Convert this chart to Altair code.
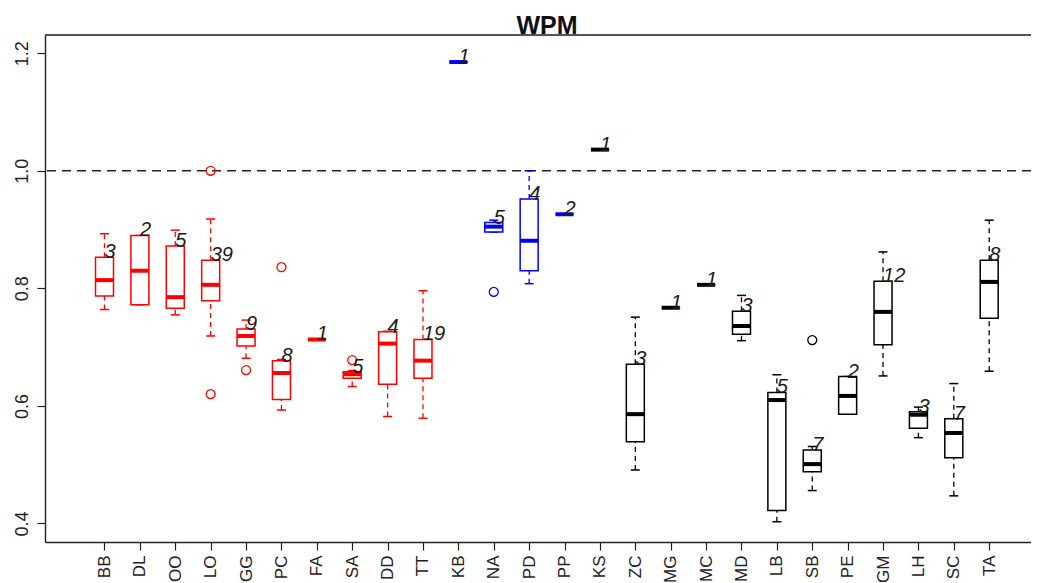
import altair as alt
import pandas as pd

# ---- data ----
names = ["BB", "DL", "OO", "LO", "GG", "PC", "FA", "SA", "DD", "TT",
         "KB", "NA", "PD", "PP",
         "KS", "ZC", "MG", "MC", "MD", "LB", "SB", "PE", "GM", "LH", "SC", "TA"]
groups = ["red"] * 10 + ["blue"] * 4 + ["black"] * 12
lower = [0.764, 0.772, 0.755, 0.719, 0.681, 0.593, 0.713, 0.633, 0.582, 0.579,
         1.185, 0.896, 0.808, 0.926,
         1.036, 0.491, 0.767, 0.806, 0.711, 0.403, 0.456, 0.586, 0.651, 0.546, 0.447, 0.659]
q1 = [0.787, 0.772, 0.766, 0.779, 0.702, 0.611, 0.713, 0.647, 0.637, 0.647,
      1.185, 0.896, 0.830, 0.926,
      1.036, 0.539, 0.767, 0.806, 0.722, 0.422, 0.488, 0.586, 0.704, 0.562, 0.512, 0.749]
median = [0.814, 0.830, 0.785, 0.806, 0.719, 0.656, 0.713, 0.654, 0.706, 0.677,
          1.185, 0.905, 0.881, 0.926,
          1.036, 0.586, 0.767, 0.806, 0.736, 0.610, 0.501, 0.617, 0.760, 0.585, 0.554, 0.811]
q3 = [0.853, 0.890, 0.872, 0.848, 0.731, 0.677, 0.713, 0.658, 0.726, 0.713,
      1.185, 0.912, 0.952, 0.926,
      1.036, 0.671, 0.767, 0.806, 0.761, 0.623, 0.525, 0.650, 0.812, 0.590, 0.578, 0.848]
upper = [0.893, 0.890, 0.899, 0.918, 0.746, 0.679, 0.713, 0.660, 0.727, 0.796,
         1.185, 0.916, 1.000, 0.926,
         1.036, 0.751, 0.767, 0.806, 0.788, 0.653, 0.531, 0.650, 0.862, 0.598, 0.638, 0.916]
counts = [3, 2, 5, 39, 9, 8, 1, 5, 4, 19,
          1, 5, 4, 2,
          1, 3, 1, 1, 3, 5, 7, 2, 12, 3, 7, 8]

outlier_names = ["LO", "LO", "GG", "PC", "SA", "NA", "SB"]
outlier_values = [1.000, 0.620, 0.661, 0.836, 0.678, 0.794, 0.712]

y_ticks = [0.4, 0.6, 0.8, 1.0, 1.2]
title_text = "WPM"

palette = {"red": "#FF0000", "blue": "#0000FF", "black": "#000000"}

# ---- tables ----
df = pd.DataFrame({
    "name": names,
    "pos": list(range(1, len(names) + 1)),
    "color": [palette[g] for g in groups],
    "lower": lower, "q1": q1, "median": median, "q3": q3, "upper": upper,
    "n": [str(c) for c in counts],
})
pos_of = {n: i + 1 for i, n in enumerate(names)}
col_of = dict(zip(names, df["color"]))
dfo = pd.DataFrame({
    "name": outlier_names,
    "pos": [pos_of[n] for n in outlier_names],
    "color": [col_of[n] for n in outlier_names],
    "value": outlier_values,
})

W, H = 986, 507
xdom = [-0.54, 27.04]
ydom = [0.3685, 1.231]
FONT = "Liberation Sans"

label_expr = "[" + ",".join("'%s'" % n for n in names) + "][datum.value - 1]"

xenc = alt.X("pos:Q", scale=alt.Scale(domain=xdom, nice=False, zero=False),
             axis=alt.Axis(values=list(range(1, len(names) + 1)), labelExpr=label_expr,
                           labelAngle=270, labelAlign="right", labelBaseline="middle",
                           labelPadding=5, tickSize=8, tickColor="#222", tickWidth=1.2,
                           domainColor="#222", domainWidth=1.4, grid=False,
                           labelFont=FONT, labelFontSize=17, labelColor="#222",
                           title=None))
yscale = alt.Scale(domain=ydom, nice=False, zero=False)
yaxis = alt.Axis(values=y_ticks, format=".1f", labelAngle=270, labelAlign="center",
                 labelBaseline="bottom", labelPadding=6, tickSize=8, tickColor="#222",
                 tickWidth=1.2, domainColor="#222", domainWidth=1.4, grid=False,
                 labelFont=FONT, labelFontSize=18, labelColor="#222", title=None)
col = alt.Color("color:N", scale=None)

base = alt.Chart(df)

ref = alt.Chart(pd.DataFrame({"v": [1.0]})).mark_rule(
    color="#222", strokeWidth=1.4, strokeDash=[9, 6]
).encode(y=alt.Y("v:Q", scale=yscale, axis=yaxis))

top_border = alt.Chart(pd.DataFrame({"v": [ydom[1]]})).mark_rule(
    color="#222", strokeWidth=1.4
).encode(y=alt.Y("v:Q", scale=yscale))

title_mark = alt.Chart(pd.DataFrame({"t": [title_text]})).mark_text(
    fontSize=25, fontWeight="bold", font=FONT, color="#111",
    align="center", baseline="alphabetic"
).encode(text="t:N", x=alt.value(502), y=alt.value(-1))

whisk_up = base.mark_rule(strokeWidth=1.3, strokeDash=[5, 4], opacity=1).encode(
    x=xenc, y=alt.Y("q3:Q", scale=yscale, axis=yaxis), y2="upper:Q", color=col)
whisk_lo = base.mark_rule(strokeWidth=1.3, strokeDash=[5, 4], opacity=1).encode(
    x=xenc, y=alt.Y("lower:Q", scale=yscale), y2="q1:Q", color=col)
cap_up = base.mark_tick(orient="horizontal", size=9, thickness=1.5, opacity=1).encode(
    x=xenc, y=alt.Y("upper:Q", scale=yscale), color=col)
cap_lo = base.mark_tick(orient="horizontal", size=9, thickness=1.5, opacity=1).encode(
    x=xenc, y=alt.Y("lower:Q", scale=yscale), color=col)
box = base.mark_bar(size=18, fill="white", strokeWidth=1.5, opacity=1).encode(
    x=xenc, y=alt.Y("q1:Q", scale=yscale), y2="q3:Q", stroke=alt.Stroke("color:N", scale=None))
med = base.mark_tick(orient="horizontal", size=18, thickness=4, opacity=1).encode(
    x=xenc, y=alt.Y("median:Q", scale=yscale), color=col)
outl = alt.Chart(dfo).mark_point(shape="circle", filled=False, size=80, strokeWidth=1.3,
                                 opacity=1).encode(
    x=xenc, y=alt.Y("value:Q", scale=yscale), color=col)
labels = base.mark_text(align="left", baseline="alphabetic", fontSize=20, fontStyle="italic",
                        font=FONT, color="#1a1a1a", dy=1).encode(
    x=xenc, y=alt.Y("q3:Q", scale=yscale), text="n:N")

chart = alt.layer(ref, top_border, whisk_up, whisk_lo, cap_up, cap_lo, box, med, outl, labels,
                  title_mark).properties(
    width=W, height=H,
    autosize=alt.AutoSizeParams(type="none"),
    padding={"left": 37, "top": 27, "right": 0, "bottom": 40},
).configure_view(stroke=None).configure(background="white")

chart.save("out.html", embed_options={"renderer": "svg", "actions": False})
